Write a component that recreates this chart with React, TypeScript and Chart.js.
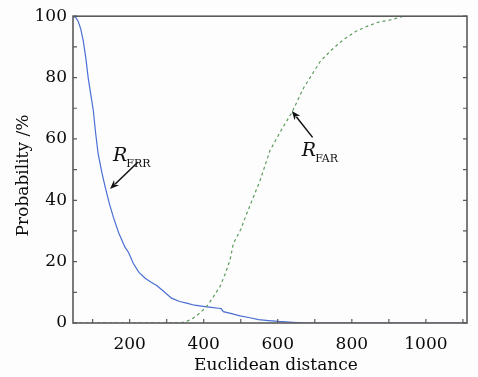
import React, { useEffect, useRef } from "react";
import { Chart, registerables } from "chart.js";

Chart.register(...registerables);

// FRR curve (solid blue)
const frrX = [47, 55, 61, 68, 75, 82, 88, 95, 102, 108, 115, 125, 134, 145, 156, 170, 187, 197, 210, 225, 242, 258, 273, 290, 313, 335, 354, 375, 399, 420, 440, 447, 453, 470, 498, 525, 548, 575, 602, 640, 678, 700, 1111];
const frrY = [100, 99.5, 98.3, 95.8, 91.8, 86, 79.9, 74.5, 69.1, 62, 55.1, 49, 44.3, 39, 34.5, 29.5, 24.8, 23, 19.4, 16.5, 14.6, 13.3, 12.2, 10.5, 8.1, 7, 6.5, 5.8, 5.4, 5.1, 4.8, 4.7, 3.7, 3.2, 2.3, 1.7, 1.1, 0.8, 0.5, 0.2, 0, 0, 0];

// FAR curve (dashed green)
const farX = [47, 336, 355, 372, 390, 408, 426, 444, 458, 471, 480, 500, 516, 534, 552, 579, 610, 638, 670, 715, 745, 778, 810, 841, 870, 904, 940, 1111];
const farY = [0, 0, 0.6, 1.6, 3.3, 5.4, 8.5, 11.9, 16, 20.5, 25.9, 30.5, 35.6, 41, 46.4, 56.2, 63, 68.6, 76.7, 85.3, 89, 92.4, 95, 96.7, 98, 98.8, 100, 100];

const xMin = 47;
const xMax = 1111;
const xTickLabels = [200, 400, 600, 800, 1000];
const yTickLabels = [0, 20, 40, 60, 80, 100];
const xTickMarks = [100, 200, 300, 400, 500, 600, 700, 800, 900, 1000, 1100];
const yTickMarks = [0, 10, 20, 30, 40, 50, 60, 70, 80, 90, 100];

const xTitle = "\u2002\u2009Euclidean distance";
const yTitle = "Probability /%\u2002\u2009";

// annotation anchors in data units: text position, arrow tail, arrow head
const annotations = [
  { main: "R", sub: "FRR", tx: 155, ty: 52.9, fromX: 222, fromY: 52.4, toX: 147, toY: 43.7 },
  { main: "R", sub: "FAR", tx: 665, ty: 54.5, fromX: 694, fromY: 60.5, toX: 638, toY: 69.1 },
];

const FONT = "'DejaVu Serif', serif";
const TEXT = "#0a0a0a";
const FRAME = "#5a5a5a";

const framePlugin = {
  id: "framePlugin",
  beforeDraw(chart: any) {
    const ctx = chart.ctx;
    ctx.save();
    ctx.fillStyle = "#fdfdfd";
    ctx.fillRect(0, 0, chart.width, chart.height);
    ctx.restore();
  },
  afterDraw(chart: any) {
    const { ctx, chartArea } = chart;
    const xs = chart.scales.x;
    const ys = chart.scales.y;
    const { left, right, top, bottom } = chartArea;
    ctx.save();
    ctx.strokeStyle = FRAME;
    ctx.lineWidth = 1.6;
    ctx.strokeRect(left, top, right - left, bottom - top);
    ctx.lineWidth = 1.2;
    ctx.beginPath();
    for (const v of xTickMarks) {
      const px = xs.getPixelForValue(v);
      ctx.moveTo(px, bottom);
      ctx.lineTo(px, bottom - 4);
    }
    for (const v of yTickMarks) {
      const py = ys.getPixelForValue(v);
      ctx.moveTo(left, py);
      ctx.lineTo(left + 4, py);
      ctx.moveTo(right, py);
      ctx.lineTo(right - 4, py);
    }
    ctx.stroke();

    // annotations
    for (const a of annotations) {
      const tx = xs.getPixelForValue(a.tx);
      const ty = ys.getPixelForValue(a.ty);
      ctx.fillStyle = "#111";
      ctx.textBaseline = "alphabetic";
      ctx.textAlign = "left";
      ctx.font = `italic 19px ${FONT}`;
      ctx.fillText(a.main, tx, ty);
      const w = ctx.measureText(a.main).width;
      ctx.font = `11px ${FONT}`;
      ctx.fillText(a.sub, tx + w - 1, ty + 6);

      const x1 = xs.getPixelForValue(a.fromX);
      const y1 = ys.getPixelForValue(a.fromY);
      const x2 = xs.getPixelForValue(a.toX);
      const y2 = ys.getPixelForValue(a.toY);
      const ang = Math.atan2(y2 - y1, x2 - x1);
      const hl = 9;
      const hw = 3.6;
      ctx.strokeStyle = "#111";
      ctx.lineWidth = 1.5;
      ctx.beginPath();
      ctx.moveTo(x1, y1);
      ctx.lineTo(x2 - Math.cos(ang) * hl * 0.8, y2 - Math.sin(ang) * hl * 0.8);
      ctx.stroke();
      ctx.beginPath();
      ctx.moveTo(x2, y2);
      ctx.lineTo(x2 - Math.cos(ang) * hl - Math.sin(ang) * hw, y2 - Math.sin(ang) * hl + Math.cos(ang) * hw);
      ctx.lineTo(x2 - Math.cos(ang) * hl * 0.7, y2 - Math.sin(ang) * hl * 0.7);
      ctx.lineTo(x2 - Math.cos(ang) * hl + Math.sin(ang) * hw, y2 - Math.sin(ang) * hl - Math.cos(ang) * hw);
      ctx.closePath();
      ctx.fillStyle = "#111";
      ctx.fill();
    }
    ctx.restore();
  },
};

export default function App() {
  const ref = useRef<HTMLCanvasElement | null>(null);

  useEffect(() => {
    if (!ref.current) return;
    const chart = new Chart(ref.current, {
      type: "line",
      data: {
        datasets: [
          {
            label: "FAR",
            data: farX.map((x, i) => ({ x, y: farY[i] })),
            borderColor: "#5c9c5c",
            borderWidth: 1.2,
            borderDash: [3, 3],
            pointRadius: 0,
            tension: 0,
            fill: false,
          },
          {
            label: "FRR",
            data: frrX.map((x, i) => ({ x, y: frrY[i] })),
            borderColor: "#4a6fd4",
            borderWidth: 1.2,
            pointRadius: 0,
            tension: 0,
            fill: false,
          },
        ],
      },
      options: {
        responsive: false,
        animation: false,
        layout: { padding: { top: 15, right: 11, left: 0, bottom: 0 } },
        plugins: {
          legend: { display: false },
          tooltip: { enabled: false },
          title: { display: false },
        },
        scales: {
          x: {
            type: "linear",
            min: xMin,
            max: xMax,
            grid: { display: false, drawTicks: false },
            border: { display: false },
            afterBuildTicks: (scale: any) => {
              scale.ticks = xTickLabels.map((v) => ({ value: v }));
            },
            afterFit: (scale: any) => {
              scale.height = 54;
            },
            ticks: {
              color: TEXT,
              font: { family: FONT, size: 17 },
              padding: 11,
              maxRotation: 0,
              autoSkip: false,
              callback: (v: any) => String(v),
            },
            title: {
              display: true,
              text: xTitle,
              color: TEXT,
              font: { family: FONT, size: 17 },
              padding: { top: 0, bottom: 1 },
            },
          },
          y: {
            type: "linear",
            min: 0,
            max: 100,
            grid: { display: false, drawTicks: false },
            border: { display: false },
            afterBuildTicks: (scale: any) => {
              scale.ticks = yTickLabels.map((v) => ({ value: v }));
            },
            afterFit: (scale: any) => {
              scale.width = 73;
            },
            ticks: {
              color: TEXT,
              font: { family: FONT, size: 17 },
              padding: 6,
              autoSkip: false,
              callback: (v: any) => String(v),
            },
            title: {
              display: true,
              text: yTitle,
              color: TEXT,
              font: { family: FONT, size: 17 },
              padding: { top: 13, bottom: 0 },
            },
          },
        },
      },
      plugins: [framePlugin],
    });
    return () => chart.destroy();
  }, []);

  return (
    <div style={{ position: "absolute", left: 0, top: 0, width: 478, height: 377 }}>
      <canvas ref={ref} width={478} height={377} style={{ width: 478, height: 377, display: "block" }} />
    </div>
  );
}
